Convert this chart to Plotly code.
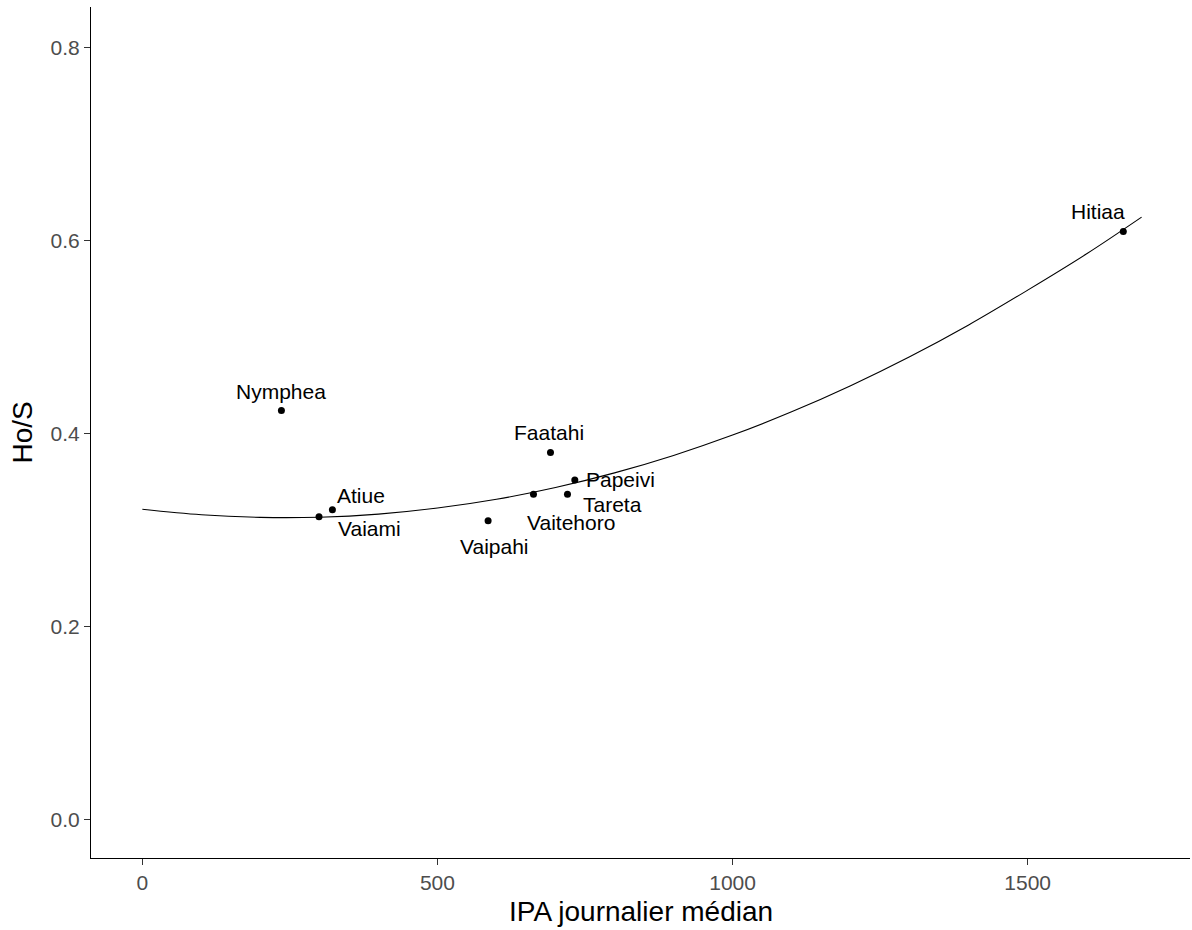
import plotly.graph_objects as go

# Site data
sites = ["Nymphea", "Atiue", "Vaiami", "Vaipahi", "Faatahi", "Vaitehoro", "Papeivi", "Tareta", "Hitiaa"]
ipa = [235.6, 322.0, 299.3, 585.8, 691.5, 662.7, 732.7, 720.3, 1662.0]
hos = [0.424, 0.321, 0.3137, 0.3095, 0.3804, 0.3372, 0.352, 0.3372, 0.6097]

# Label offsets in pixels (dx right, dy down)
label_dx = [0, 29, 50, 6, -1, 38, 46, 45, -25]
label_dy = [-19, -14, 12, 26, -20, 28, 0, 10, -20]

# Fitted curve
curve_x = [0, 100, 200, 300, 400, 500, 600, 700, 800, 900, 1000, 1100, 1200, 1300, 1400, 1500, 1600, 1693]
curve_y = [0.3215, 0.3158, 0.3131, 0.3133, 0.3165, 0.3228, 0.3319, 0.3441, 0.3593, 0.3774, 0.3985,
           0.4226, 0.4497, 0.4797, 0.5127, 0.5488, 0.5865, 0.6245]

x_ticks = [0, 500, 1000, 1500]
y_ticks = [0.0, 0.2, 0.4, 0.6, 0.8]
y_tick_text = ["0.0", "0.2", "0.4", "0.6", "0.8"]

FONT = "Liberation Sans, Arial, sans-serif"

fig = go.Figure()
fig.add_trace(go.Scatter(x=curve_x, y=curve_y, mode="lines", line=dict(color="black", width=1.1, shape="spline"),
                         hoverinfo="skip", showlegend=False))
fig.add_trace(go.Scatter(x=ipa, y=hos, mode="markers", marker=dict(color="black", size=7),
                         text=sites, showlegend=False))

for s, x, y, dx, dy in zip(sites, ipa, hos, label_dx, label_dy):
    fig.add_annotation(x=x, y=y, text=s, showarrow=False, xshift=dx, yshift=-dy,
                       xanchor="center", yanchor="middle",
                       font=dict(family=FONT, size=21, color="black"))

# Axis titles
fig.add_annotation(xref="paper", yref="paper", x=0.5, y=0, text="IPA journalier médian", showarrow=False,
                   xanchor="center", yanchor="top", yshift=-36,
                   font=dict(family=FONT, size=28, color="black"))
fig.add_annotation(xref="paper", yref="paper", x=0, y=0.5, text="Ho/S", showarrow=False, textangle=-90,
                   xanchor="center", yanchor="middle", xshift=-69,
                   font=dict(family=FONT, size=28, color="black"))

fig.update_layout(
    width=1192, height=930,
    margin=dict(l=91, r=2, t=7, b=72),
    plot_bgcolor="white", paper_bgcolor="white",
    font=dict(family=FONT),
    xaxis=dict(range=[-87, 1775], tickvals=x_ticks, showgrid=False, zeroline=False,
               showline=True, linecolor="black", linewidth=1.2, ticks="outside", ticklen=6,
               tickcolor="#333333", tickwidth=1.2,
               tickfont=dict(family=FONT, size=21, color="#4D4D4D")),
    yaxis=dict(range=[-0.0402, 0.8425], tickvals=y_ticks, ticktext=y_tick_text, showgrid=False, zeroline=False,
               showline=True, linecolor="black", linewidth=1.2, ticks="outside", ticklen=6,
               tickcolor="#333333", tickwidth=1.2,
               tickfont=dict(family=FONT, size=21, color="#4D4D4D")),
)

fig.write_html("out.html", config={"displayModeBar": False},
               post_script="document.body.style.margin='0';document.body.style.overflow='hidden';")
